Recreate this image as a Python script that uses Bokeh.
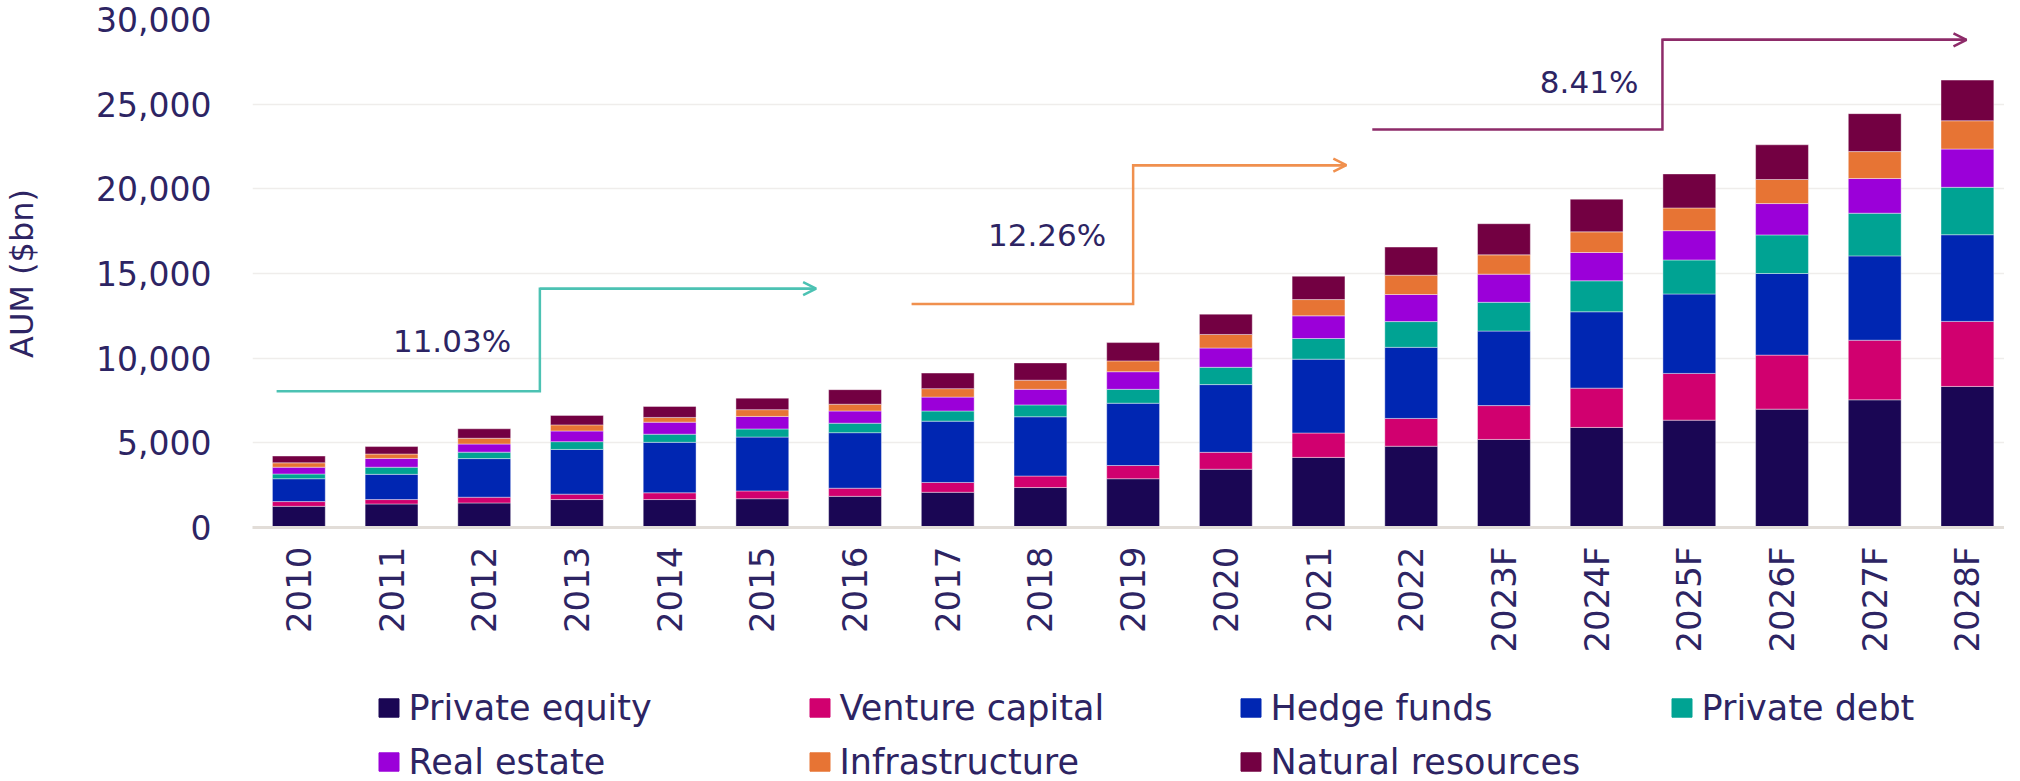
import math
from bokeh.plotting import figure
from bokeh.layouts import column
from bokeh.models import (Range1d, FixedTicker, Legend, LegendItem, Label,
                          Arrow, OpenHead, NumeralTickFormatter, ColumnDataSource)
from bokeh.embed import file_html
from bokeh.resources import INLINE

# ---------------- data ----------------
years = ["2010", "2011", "2012", "2013", "2014", "2015", "2016", "2017", "2018",
         "2019", "2020", "2021", "2022", "2023F", "2024F", "2025F", "2026F",
         "2027F", "2028F"]

private_equity = [1250, 1390, 1450, 1650, 1650, 1700, 1840, 2080, 2360, 2880,
                  3440, 4140, 4800, 5200, 5910, 6340, 6990, 7540, 8330]
venture_capital = [280, 260, 340, 320, 400, 460, 480, 580, 680, 780,
                   1000, 1440, 1640, 2000, 2320, 2760, 3190, 3520, 3840]
hedge_funds = [1350, 1490, 2280, 2640, 2980, 3180, 3280, 3620, 3500, 3680,
               4000, 4360, 4200, 4400, 4510, 4690, 4820, 4980, 5120]
private_debt = [280, 420, 380, 460, 480, 480, 560, 600, 700, 820,
                1020, 1220, 1520, 1700, 1830, 2010, 2280, 2520, 2800]
real_estate = [400, 520, 480, 630, 710, 740, 720, 820, 920, 1040,
               1140, 1340, 1600, 1660, 1670, 1730, 1850, 2050, 2260]
infrastructure = [260, 260, 340, 360, 280, 400, 400, 500, 540, 640,
                  800, 960, 1140, 1140, 1220, 1340, 1420, 1590, 1670]
natural_resources = [400, 440, 560, 560, 650, 680, 860, 920, 1020, 1080,
                     1200, 1380, 1660, 1840, 1930, 2010, 2050, 2240, 2400]

series_names = ["Private equity", "Venture capital", "Hedge funds", "Private debt",
                "Real estate", "Infrastructure", "Natural resources"]
series_keys = ["pe", "vc", "hf", "pd", "re", "infra", "nr"]
series_colors = ["#1a0654", "#d1006f", "#0026b2", "#00a393",
                 "#9b00d9", "#e77434", "#730042"]

y_ticks = [0, 5000, 10000, 15000, 20000, 25000, 30000]

# CAGR annotations: label, stepped path (x index, value), colour
cagr_labels = ["11.03%", "12.26%", "8.41%"]
cagr_label_pos = [(2.29, 11000), (8.71, 17300), (14.45, 26300)]
cagr_paths_x = [[-0.24, 2.6, 2.6, 5.58], [6.61, 9.0, 9.0, 11.30], [11.58, 14.71, 14.71, 17.99]]
cagr_paths_y = [[8050, 8050, 14100, 14100], [13200, 13200, 21400, 21400],
                [23500, 23500, 28800, 28800]]
cagr_colors = ["#4cc2b3", "#f0904e", "#8d2b69"]

# ---------------- main figure ----------------
TEXT = "#2d2463"
FONT = "DejaVu Sans"
W = 2004
H_MAIN = 675
H_LEG = 106

x_idx = list(range(len(years)))
src = ColumnDataSource(dict(x=x_idx, pe=private_equity, vc=venture_capital,
                            hf=hedge_funds, pd=private_debt, re=real_estate,
                            infra=infrastructure, nr=natural_resources))

p = figure(width=W, height=H_MAIN, x_range=Range1d(-0.5, 18.4),
           y_range=Range1d(0, 30000), output_backend="svg", toolbar_location=None,
           min_border_left=246, min_border_right=0, min_border_top=19,
           min_border_bottom=148)
p.outline_line_color = None
p.background_fill_color = "white"

p.vbar_stack(series_keys, x="x", width=0.57, source=src, color=series_colors,
             line_color="white", line_width=0.8, line_alpha=0.5)

p.xgrid.grid_line_color = None
p.ygrid.grid_line_color = "#efedeb"
p.ygrid.grid_line_width = 1.5
p.yaxis.ticker = FixedTicker(ticks=y_ticks)
p.yaxis.formatter = NumeralTickFormatter(format="0,0")
p.yaxis.axis_line_color = None
p.yaxis.major_tick_line_color = None
p.yaxis.minor_tick_line_color = None
p.yaxis.major_label_standoff = 35
p.yaxis.major_label_text_font = FONT
p.yaxis.major_label_text_font_size = "33px"
p.yaxis.major_label_text_color = TEXT
p.yaxis.axis_label = "AUM ($bn)"
p.yaxis.axis_label_text_font = FONT
p.yaxis.axis_label_text_font_size = "32px"
p.yaxis.axis_label_text_font_style = "normal"
p.yaxis.axis_label_text_color = TEXT
p.yaxis.axis_label_standoff = 52

p.xaxis.ticker = FixedTicker(ticks=x_idx)
p.xaxis.major_label_overrides = {i: y for i, y in enumerate(years)}
p.xaxis.major_label_orientation = math.pi / 2
p.xaxis.major_tick_line_color = None
p.xaxis.minor_tick_line_color = None
p.xaxis.axis_line_color = "#e2ddd8"
p.xaxis.axis_line_width = 3
p.xaxis.major_label_standoff = 13
p.xaxis.major_label_text_font = FONT
p.xaxis.major_label_text_font_size = "34px"
p.xaxis.major_label_text_color = TEXT

for xs, ys, c in zip(cagr_paths_x, cagr_paths_y, cagr_colors):
    p.line(xs, ys, line_color=c, line_width=2.5, line_join="miter")
    p.add_layout(Arrow(end=OpenHead(size=13, line_color=c, line_width=2.5),
                       x_start=xs[-2], y_start=ys[-2], x_end=xs[-1], y_end=ys[-1],
                       line_color=c, line_width=2.5))
for txt, (lx, ly) in zip(cagr_labels, cagr_label_pos):
    p.add_layout(Label(x=lx, y=ly, text=txt, text_align="right",
                       text_baseline="middle", text_font=FONT,
                       text_font_size="31px", text_color=TEXT))

# ---------------- legend strip ----------------
leg = figure(width=W, height=H_LEG, x_range=Range1d(0, W), y_range=Range1d(0, H_LEG),
             output_backend="svg", toolbar_location=None, x_axis_type=None,
             y_axis_type=None, min_border=0)
leg.outline_line_color = None
leg.xgrid.visible = False
leg.ygrid.visible = False
# hidden copies of the series, used only to draw the legend swatches
hidden = leg.vbar_stack(series_keys, x="x", width=0.57, source=src,
                        color=series_colors, visible=False)
legend = Legend(items=[LegendItem(label=n, renderers=[r]) for n, r in zip(series_names, hidden)],
                location=(123.5, -2.5), orientation="horizontal", ncols=4,
                padding=0, margin=0, spacing=10,
                glyph_width=25, glyph_height=23, label_standoff=8,
                label_width=388, label_height=44,
                label_text_baseline="alphabetic",
                inactive_fill_alpha=0,
                border_line_color=None, background_fill_alpha=0,
                label_text_font=FONT, label_text_font_size="35px",
                label_text_color=TEXT)
leg.add_layout(legend, "center")

open("out.html", "w").write(file_html(column(p, leg, spacing=0), INLINE))
